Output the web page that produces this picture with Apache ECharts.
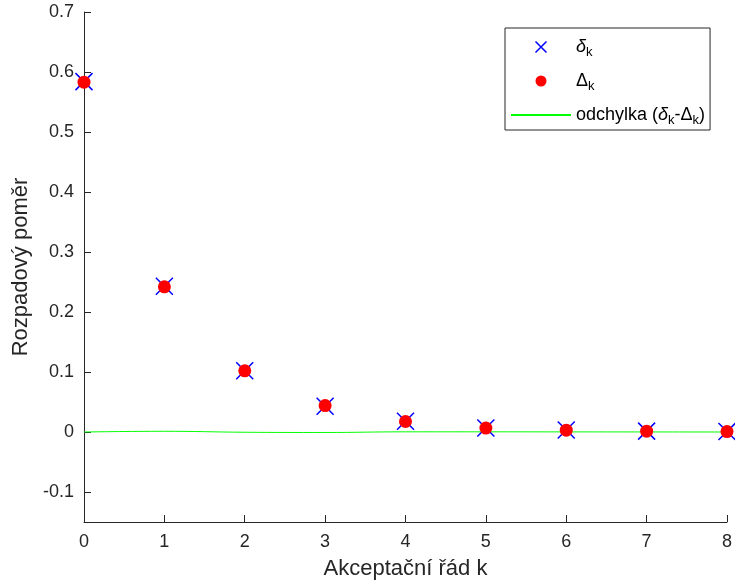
<!DOCTYPE html>
<html>
<head>
<meta charset="utf-8">
<script src="https://cdn.jsdelivr.net/npm/echarts@6/dist/echarts.min.js"></script>
<style>
  html, body { margin: 0; padding: 0; background: #fff; }
  #chart { width: 735px; height: 588px; }
</style>
</head>
<body>
<div id="chart"></div>
<script>
// acceptance order k
const orders = [0, 1, 2, 3, 4, 5, 6, 7, 8];
// decay ratio delta_k (crosses)
const deltaSmall = [0.584, 0.243, 0.102, 0.043, 0.018, 0.0068, 0.0033, 0.0015, 0.0007];
// decay ratio Delta_k (filled circles)
const deltaCapital = [0.583, 0.242, 0.102, 0.044, 0.0175, 0.0065, 0.0031, 0.0014, 0.0007];
// deviation (delta_k - Delta_k)
const deviation = [0, 0.0012, -0.0004, -0.0008, 0.0003, 0.0003, 0.0002, 0.0001, 0];
// y-axis tick labels
const yTicks = [-0.1, 0, 0.1, 0.2, 0.3, 0.4, 0.5, 0.6, 0.7];

const FONT = '"Liberation Sans", Arial, Helvetica, sans-serif';
const INK = '#262626';
const crossPath = 'path://M0,0L10,10M10,0L0,10';

const chart = echarts.init(document.getElementById('chart'));

const rich = {
  m: { fontSize: 18, lineHeight: 24, fontFamily: FONT, color: '#000' },
  i: { fontSize: 18, lineHeight: 24, fontFamily: FONT, color: '#000', fontStyle: 'italic' },
  s: { fontSize: 13, lineHeight: 9, fontFamily: FONT, color: '#000', verticalAlign: 'bottom' }
};

chart.setOption({
  animation: false,
  grid: { left: 84, right: 5, top: 12, bottom: 66, containLabel: false },
  xAxis: {
    type: 'value',
    min: 0, max: 8, interval: 1,
    name: 'Akceptační řád k',
    nameLocation: 'middle',
    nameGap: 36,
    nameTextStyle: { fontFamily: FONT, fontSize: 22, color: INK },
    axisLine: { onZero: false, lineStyle: { color: INK, width: 1 } },
    axisTick: { inside: true, length: 7, lineStyle: { color: INK } },
    axisLabel: { margin: 11, fontFamily: FONT, fontSize: 18, color: INK },
    splitLine: { show: false }
  },
  yAxis: {
    type: 'value',
    min: -0.15, max: 0.7, splitNumber: 8,
    name: 'Rozpadový poměr',
    nameLocation: 'middle',
    nameGap: 50,
    nameTextStyle: { fontFamily: FONT, fontSize: 22, color: INK },
    axisLine: { lineStyle: { color: INK, width: 1 } },
    axisTick: { inside: true, length: 7, lineStyle: { color: INK } },
    axisLabel: {
      margin: 10, fontFamily: FONT, fontSize: 18, color: INK,
      showMinLabel: false,
      formatter: function (v) {
        const hit = yTicks.find(t => Math.abs(t - v) < 1e-9);
        return hit === undefined ? '' : String(hit);
      }
    },
    splitLine: { show: false }
  },
  legend: {
    orient: 'vertical',
    left: 505, top: 28,
    padding: [10, 5, 3, 5],
    itemGap: 13,
    itemWidth: 60,
    itemHeight: 11,
    backgroundColor: '#fff',
    borderColor: INK,
    borderWidth: 1,
    borderRadius: 0,
    selectedMode: false,
    data: [
      { name: 'delta', icon: crossPath, itemStyle: { color: 'none', borderColor: '#0000ff', borderWidth: 1.5 } },
      { name: 'Delta', icon: 'circle', itemStyle: { color: '#ff0000' } },
      { name: 'odchylka', itemStyle: { opacity: 0 } }
    ],
    formatter: function (name) {
      if (name === 'delta') return '{i|δ}{s|k}';
      if (name === 'Delta') return '{m|Δ}{s|k}';
      return '{m|odchylka (}{i|δ}{s|k}{m|-Δ}{s|k}{m|)}';
    },
    textStyle: { fontFamily: FONT, fontSize: 18, color: '#000', rich: rich }
  },
  series: [
    {
      name: 'odchylka',
      type: 'line',
      data: orders.map((k, i) => [k, deviation[i]]),
      symbol: 'none',
      smooth: 0.4,
      lineStyle: { color: '#00ff00', width: 1 },
      itemStyle: { color: '#00ff00' },
      z: 1
    },
    {
      name: 'delta',
      type: 'scatter',
      data: orders.map((k, i) => [k, deltaSmall[i]]),
      symbol: crossPath,
      symbolSize: 17,
      itemStyle: { color: 'none', borderColor: '#0000ff', borderWidth: 1.5, opacity: 1 },
      z: 2
    },
    {
      name: 'Delta',
      type: 'scatter',
      data: orders.map((k, i) => [k, deltaCapital[i]]),
      symbol: 'circle',
      symbolSize: 13,
      itemStyle: { color: '#ff0000', opacity: 1 },
      z: 3
    }
  ]
});
</script>
</body>
</html>
